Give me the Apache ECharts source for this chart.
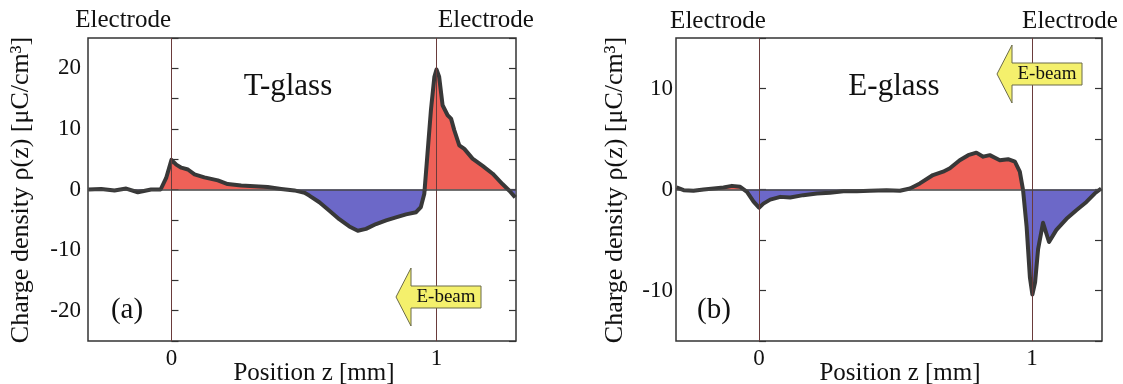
<!DOCTYPE html>
<html>
<head>
<meta charset="utf-8">
<script src="https://cdn.jsdelivr.net/npm/echarts@6/dist/echarts.min.js"></script>
<style>
  html, body { margin: 0; padding: 0; background: #fff; }
  #chart { width: 1123px; height: 384px; }
</style>
</head>
<body>
<div id="chart"></div>
<script>
// T-glass, position z [mm] and charge density [uC/cm3]
var tZ = [-0.313, -0.265, -0.215, -0.171, -0.127, -0.077, -0.041, -0.02, 0.0, 0.018, 0.037, 0.062, 0.087, 0.124, 0.175,
  0.212, 0.263, 0.313, 0.363, 0.414, 0.464, 0.502, 0.52, 0.558, 0.596, 0.633, 0.671, 0.703, 0.734, 0.772, 0.81, 0.847,
  0.885, 0.923, 0.941, 0.954, 0.966, 0.979, 0.992, 1.0, 1.01, 1.023, 1.042, 1.055, 1.067, 1.086, 1.105, 1.136, 1.174,
  1.212, 1.249, 1.275, 1.297];
var tRho = [0, 0.1, -0.15, 0.15, -0.45, 0, 0, 1.9, 4.9, 4.1, 3.6, 3.3, 2.5, 2.0, 1.5,
  0.9, 0.66, 0.55, 0.4, 0.1, -0.15, -0.55, -1.0, -2.1, -3.5, -4.9, -6.1, -6.8, -6.5, -5.7, -5.1, -4.6,
  -4.1, -3.75, -2.9, -0.7, 5.9, 13.1, 18.6, 19.8, 18.6, 13.9, 12.25, 11.7, 9.8, 7.3, 6.7, 5.1, 3.9,
  2.6, 0.9, -0.2, -1.3];

// E-glass
var eZ = [-0.302, -0.276, -0.24, -0.203, -0.166, -0.13, -0.099, -0.069, -0.044, -0.02, 0.0, 0.016, 0.041, 0.078,
  0.114, 0.162, 0.212, 0.26, 0.309, 0.358, 0.406, 0.467, 0.516, 0.553, 0.589, 0.637, 0.674, 0.699, 0.735, 0.766,
  0.796, 0.821, 0.845, 0.882, 0.912, 0.937, 0.955, 0.967, 0.98, 0.992, 1.001, 1.011, 1.022, 1.04, 1.062, 1.089,
  1.126, 1.162, 1.199, 1.229, 1.253];
var eRho = [0.2, -0.07, -0.13, 0, 0.1, 0.2, 0.36, 0.27, -0.23, -1.2, -1.8, -1.4, -1.0, -0.73,
  -0.8, -0.56, -0.4, -0.33, -0.17, -0.17, -0.13, -0.07, -0.13, 0.1, 0.6, 1.43, 1.76, 2.1, 2.9, 3.4,
  3.65, 3.25, 3.4, 2.9, 3.0, 2.75, 1.76, -0.07, -3.7, -8.7, -10.4, -9.2, -5.9, -3.3, -5.2, -4.0,
  -2.9, -2.05, -1.23, -0.4, 0.1];

var xLabels = [0, 1];
var tYLabels = [-20, -10, 0, 10, 20];
var eYLabels = [-10, 0, 10];

var FONT = '"Liberation Serif", "Times New Roman", serif';
var posColor = '#ef6158';
var negColor = '#6c68c8';
var curveColor = '#383838';

function pairs(zs, vs, fn) {
  return zs.map(function (z, i) { return [z, fn ? fn(vs[i]) : vs[i]]; });
}

function panelSeries(idx, zs, vs) {
  var common = { type: 'line', xAxisIndex: idx, yAxisIndex: idx * 2, symbol: 'none', silent: true };
  return [
    Object.assign({}, common, {
      z: 1,
      data: pairs(zs, vs, function (v) { return Math.max(v, 0); }),
      lineStyle: { width: 0 },
      areaStyle: { color: posColor, opacity: 1 }
    }),
    Object.assign({}, common, {
      z: 1,
      data: pairs(zs, vs, function (v) { return Math.min(v, 0); }),
      lineStyle: { width: 0 },
      areaStyle: { color: negColor, opacity: 1 },
      markLine: {
        silent: true,
        symbol: 'none',
        label: { show: false },
        data: [
          { xAxis: 0, lineStyle: { color: '#6a3b3b', width: 1, type: 'solid' } },
          { xAxis: 1, lineStyle: { color: '#6a3b3b', width: 1, type: 'solid' } },
          { yAxis: 0, lineStyle: { color: '#444', width: 1.5, type: 'solid' } }
        ]
      }
    }),
    Object.assign({}, common, {
      z: 3,
      data: pairs(zs, vs),
      lineStyle: { color: curveColor, width: 4, join: 'round' }
    })
  ];
}

function xAx(idx, min, max) {
  return {
    type: 'value', gridIndex: idx, min: min, max: max,
    axisLine: { show: false }, axisTick: { show: false }, splitLine: { show: false },
    axisLabel: { customValues: xLabels, color: '#111', fontFamily: FONT, fontSize: 23, margin: 6 }
  };
}

function yAx(idx, lim, labels, right) {
  return {
    type: 'value', gridIndex: idx, min: -lim, max: lim, interval: 5,
    position: right ? 'right' : 'left',
    axisLine: { show: false },
    axisTick: { show: true, inside: true, length: 7, lineStyle: { color: '#333', width: 1.2 } },
    splitLine: { show: false },
    axisLabel: {
      show: !right, color: '#111', fontFamily: FONT, fontSize: 23, margin: idx === 0 ? 7 : 3,
      formatter: function (v) { return labels.indexOf(v) >= 0 ? String(v) : ''; }
    }
  };
}

function txt(x, y, s, size, align, rot) {
  return {
    type: 'text', x: x, y: y, rotation: rot || 0, z: 10,
    style: { text: s, fill: '#111', fontFamily: FONT, fontSize: size, align: align || 'center', verticalAlign: 'middle' }
  };
}

function arrow(tipX, cy) {
  var bx = tipX + 15, ex = tipX + 85;
  return [
    {
      type: 'polygon', z: 9,
      shape: { points: [[tipX, cy], [bx, cy - 29], [bx, cy - 11], [ex, cy - 11], [ex, cy + 11], [bx, cy + 11], [bx, cy + 29]] },
      style: { fill: '#f4f06c', stroke: '#6b6b4a', lineWidth: 1 }
    },
    txt(bx + 35, cy, 'E-beam', 19, 'center')
  ];
}

var chart = echarts.init(document.getElementById('chart'));
chart.setOption({
  backgroundColor: '#fff',
  animation: false,
  grid: [
    { left: 88, top: 38, width: 428, height: 303, show: true, borderColor: '#333', borderWidth: 1.5, backgroundColor: 'transparent' },
    { left: 676, top: 38, width: 426, height: 303, show: true, borderColor: '#333', borderWidth: 1.5, backgroundColor: 'transparent' }
  ],
  xAxis: [xAx(0, -0.315, 1.3), xAx(1, -0.304, 1.256)],
  yAxis: [
    yAx(0, 25, tYLabels, false), yAx(0, 25, tYLabels, true),
    yAx(1, 15, eYLabels, false), yAx(1, 15, eYLabels, true)
  ],
  series: panelSeries(0, tZ, tRho).concat(panelSeries(1, eZ, eRho)),
  graphic: [
    txt(171, 20, 'Electrode', 25, 'right'),
    txt(438, 20, 'Electrode', 25, 'left'),
    txt(718, 21, 'Electrode', 25, 'center'),
    txt(1070, 21, 'Electrode', 25, 'center'),
    txt(288, 87, 'T-glass', 31),
    txt(894, 87, 'E-glass', 31),
    txt(127, 310, '(a)', 29),
    txt(714, 310, '(b)', 29),
    txt(314, 373, 'Position z [mm]', 25),
    txt(900, 373, 'Position z [mm]', 25),
    txt(21, 190, 'Charge density \u03c1(z) [\u03bcC/cm\u00b3]', 26, 'center', Math.PI / 2),
    txt(615, 190, 'Charge density \u03c1(z) [\u03bcC/cm\u00b3]', 26, 'center', Math.PI / 2)
  ].concat(arrow(396, 297)).concat(arrow(997, 74))
});
</script>
</body>
</html>
